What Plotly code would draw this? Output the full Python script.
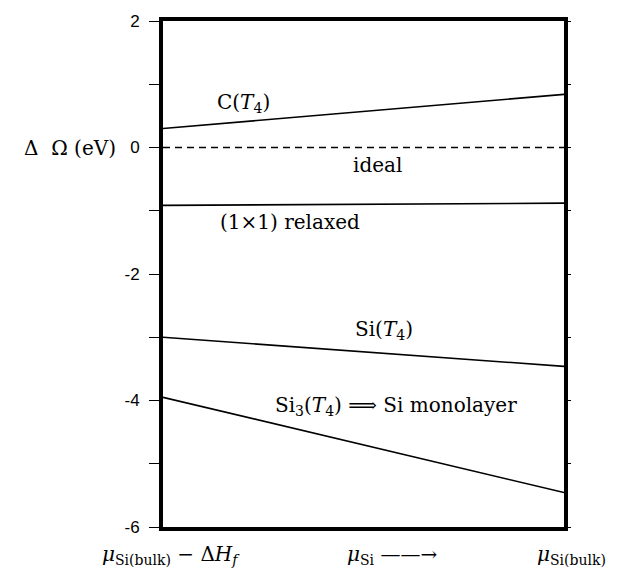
import plotly.graph_objects as go

x_pts = [0, 1]
c_t4 = [0.30, 0.84]
ideal = [0.0, 0.0]
relaxed = [-0.915, -0.88]
si_t4 = [-3.0, -3.46]
si3_t4 = [-3.95, -5.455]

y_tickvals = [2, 1, 0, -1, -2, -3, -4, -5, -6]
y_ticktext = ["2", "", "0", "", "-2", "", "-4", "", "-6"]

L, R, T, B = 163, 564, 14, 527
W, H = 625, 579
pw = R - L

fig = go.Figure()
line = dict(color="black", width=1.6)
for ys in [c_t4, relaxed, si_t4, si3_t4]:
    fig.add_trace(go.Scatter(x=x_pts, y=ys, mode="lines", line=line, hoverinfo="skip"))
fig.add_trace(go.Scatter(x=x_pts, y=ideal, mode="lines",
                         line=dict(color="black", width=1.5, dash="7px,5px"), hoverinfo="skip"))
fig.add_trace(go.Scatter(x=x_pts, y=[-6, 2], yaxis="y2", mode="lines",
                         line=dict(width=0), opacity=0, hoverinfo="skip"))

serif = dict(family="DejaVu Serif", size=20, color="black")
anns = [
    ("C(<i>T</i><sub>4</sub>)", 0.20, 0.70),
    ("ideal", 0.534, -0.28),
    ("(1×1) relaxed", 0.317, -1.17),
    ("Si(<i>T</i><sub>4</sub>)", 0.551, -2.89),
    ("Si<sub>3</sub>(<i>T</i><sub>4</sub>) ⟹ Si monolayer", 0.58, -4.08),
]
for text, xv, yv in anns:
    fig.add_annotation(x=xv, y=yv, text=text, showarrow=False, font=serif,
                       xanchor="center", yanchor="middle")

# y title
fig.add_annotation(xref="paper", yref="y", x=(118 - L) / pw, y=0, text="Δ  Ω (eV)",
                   showarrow=False, xanchor="right", yanchor="middle", font=serif)
# x labels
ylab = -(555 - B) / (B - T)
fig.add_annotation(xref="paper", yref="paper", x=(242 - L) / pw, y=ylab,
                   text="<i>μ</i><sub>Si(bulk)</sub> − Δ<i>H<sub>f</sub></i>", showarrow=False,
                   xanchor="right", yanchor="middle", font=serif)
fig.add_annotation(xref="paper", yref="paper", x=(345 - L) / pw, y=ylab,
                   text="<i>μ</i><sub>Si</sub> ——→", showarrow=False,
                   xanchor="left", yanchor="middle", font=serif)
fig.add_annotation(xref="paper", yref="paper", x=(608 - L) / pw, y=ylab,
                   text="<i>μ</i><sub>Si(bulk)</sub>", showarrow=False,
                   xanchor="right", yanchor="middle", font=serif)

fig.update_layout(
    width=W, height=H,
    margin=dict(l=L, r=W - R, t=T, b=H - B),
    paper_bgcolor="white", plot_bgcolor="white",
    showlegend=False,
    xaxis=dict(range=[0, 1], showgrid=False, zeroline=False, showticklabels=False,
               ticks="", showline=True, linecolor="black", linewidth=4, mirror=True),
    yaxis=dict(range=[-6, 2], showgrid=False, zeroline=False, tickmode="array",
               tickvals=y_tickvals, ticktext=y_ticktext, ticks="outside", ticklen=10,
               tickwidth=1.3, tickcolor="black", ticklabelstandoff=6,
               tickfont=dict(family="Liberation Sans", size=17, color="black"),
               showline=True, linecolor="black", linewidth=4, mirror=True),
    yaxis2=dict(range=[-6, 2], overlaying="y", side="right", showgrid=False, zeroline=False,
                tickmode="array", tickvals=y_tickvals, showticklabels=False,
                ticks="outside", ticklen=6, tickwidth=1.3, tickcolor="black", showline=False),
)

fig.write_html("out.html")
